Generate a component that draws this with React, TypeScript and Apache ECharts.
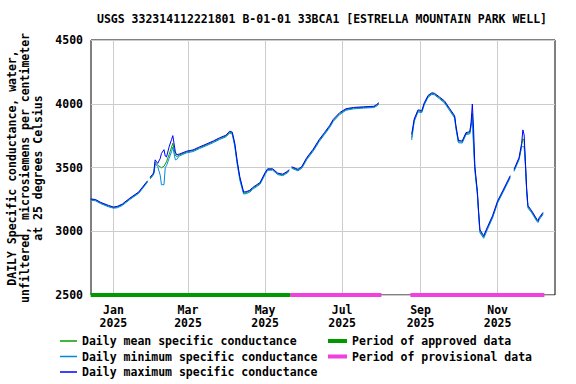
import React, { useEffect, useRef } from "react";
import * as echarts from "echarts";

const FONT = "'DejaVu Sans Mono', 'Liberation Mono', monospace";

const titleText = "USGS 332314112221801 B-01-01 33BCA1 [ESTRELLA MOUNTAIN PARK WELL]";
const yTitleLines = [
  "DAILY Specific conductance, water,",
  "unfiltered, microsiemens per centimeter",
  "at 25 degrees Celsius",
];

const dates = [
  "2024-12-14", "2024-12-18", "2024-12-22", "2024-12-28", "2025-01-01", "2025-01-04", "2025-01-08",
  "2025-01-14", "2025-01-21", "2025-01-27", "2025-01-28", "2025-01-29", "2025-01-30", "2025-02-01",
  "2025-02-02", "2025-02-03", "2025-02-05", "2025-02-07", "2025-02-08", "2025-02-10", "2025-02-11",
  "2025-02-12", "2025-02-14", "2025-02-16", "2025-02-17", "2025-02-19", "2025-02-20", "2025-02-22",
  "2025-02-28", "2025-03-05", "2025-03-10", "2025-03-16", "2025-03-21", "2025-03-26", "2025-03-31",
  "2025-04-03", "2025-04-05", "2025-04-07", "2025-04-09", "2025-04-11", "2025-04-14", "2025-04-16",
  "2025-04-19", "2025-04-21", "2025-04-27", "2025-05-01", "2025-05-03", "2025-05-07", "2025-05-11",
  "2025-05-15", "2025-05-19", "2025-05-20", "2025-05-21", "2025-05-22", "2025-05-27", "2025-05-30",
  "2025-06-03", "2025-06-08", "2025-06-13", "2025-06-17", "2025-06-21", "2025-06-24", "2025-06-29",
  "2025-07-04", "2025-07-10", "2025-07-18", "2025-07-26", "2025-07-28", "2025-07-30", "2025-08-10",
  "2025-08-25", "2025-08-27", "2025-08-30", "2025-09-02", "2025-09-04", "2025-09-07", "2025-09-10",
  "2025-09-12", "2025-09-16", "2025-09-20", "2025-09-24", "2025-09-28", "2025-09-29", "2025-10-01",
  "2025-10-04", "2025-10-07", "2025-10-10", "2025-10-11", "2025-10-12", "2025-10-13", "2025-10-14",
  "2025-10-16", "2025-10-17", "2025-10-18", "2025-10-21", "2025-10-24", "2025-10-28", "2025-11-01",
  "2025-11-05", "2025-11-11", "2025-11-12", "2025-11-14", "2025-11-18", "2025-11-20", "2025-11-21",
  "2025-11-22", "2025-11-23", "2025-11-24", "2025-11-25", "2025-11-28", "2025-12-02", "2025-12-03",
  "2025-12-04", "2025-12-07",
];

const meanVals = [
  3250, 3243, 3222, 3198, 3186, 3190, 3208,
  3255, 3303, 3378, 3390, null, 3418, 3440,
  3458, 3540, 3518, 3505, 3498, 3510, 3528,
  3545, 3600, 3660, 3690, 3598, 3585, 3598,
  3622, 3632, 3655, 3680, 3702, 3727, 3747,
  3778, 3770, 3680, 3535, 3415, 3300, 3303,
  3315, 3335, 3375, 3453, 3484, 3485, 3450,
  3442, 3466, 3478, null, 3500, 3480, 3500,
  3570, 3635, 3714, 3766, 3820, 3870, 3922,
  3955, 3966, 3971, 3975, 3986, 4002, null,
  3735, 3870, 3944, 3938, 4000, 4058, 4080,
  4076, 4046, 4014, 3955, 3897, 3818, 3702,
  3700, 3766, 3772, 3840, 3925, 3700, 3495,
  3298, 3140, 3000, 2955, 3025, 3113, 3230,
  3308, 3428, null, 3478, 3570, 3675, 3725,
  3710, 3530, 3322, 3192, 3152, 3087, 3075,
  3100, 3140,
];

const minVals = [
  3244, 3238, 3216, 3192, 3181, 3184, 3202,
  3249, 3297, 3372, 3384, null, 3410, 3432,
  3450, 3528, 3508, 3440, 3365, 3365, 3500,
  3515, 3570, 3625, 3660, 3560, 3562, 3590,
  3615, 3625, 3648, 3673, 3695, 3720, 3740,
  3770, 3762, 3668, 3522, 3402, 3292, 3295,
  3307, 3328, 3368, 3445, 3478, 3479, 3444,
  3436, 3460, 3472, null, 3494, 3474, 3493,
  3562, 3627, 3706, 3758, 3812, 3862, 3915,
  3949, 3960, 3966, 3970, 3980, 3996, null,
  3716, 3860, 3936, 3930, 3992, 4050, 4074,
  4070, 4039, 4006, 3947, 3888, 3806, 3694,
  3692, 3758, 3764, 3825, 3880, 3650, 3480,
  3285, 3128, 2988, 2945, 3015, 3104, 3222,
  3300, 3420, null, 3470, 3562, 3660, 3665,
  3660, 3515, 3310, 3182, 3144, 3079, 3068,
  3092, 3132,
];

const maxVals = [
  3254, 3248, 3226, 3203, 3190, 3195, 3213,
  3260, 3308, 3384, 3396, null, 3424, 3446,
  3464, 3560, 3532, 3570, 3610, 3640, 3590,
  3582, 3660, 3720, 3750, 3622, 3600, 3605,
  3628, 3638, 3661, 3686, 3708, 3733, 3753,
  3785, 3778, 3692, 3548, 3428, 3308, 3310,
  3322, 3342, 3382, 3460, 3490, 3490, 3456,
  3448, 3472, 3484, null, 3506, 3486, 3507,
  3578, 3643, 3722, 3774, 3828, 3878, 3930,
  3961, 3971, 3976, 3980, 3992, 4008, null,
  3760, 3880, 3952, 3946, 4008, 4066, 4086,
  4082, 4053, 4022, 3963, 3906, 3830, 3712,
  3708, 3774, 3780, 3850, 3998, 3800, 3510,
  3312, 3152, 3012, 2965, 3035, 3122, 3238,
  3316, 3436, null, 3486, 3578, 3688, 3795,
  3755, 3545, 3335, 3202, 3160, 3095, 3083,
  3108, 3148,
];

const approvedDates = ["2024-12-14", "2025-05-21"];
const provisionalDates = ["2025-05-21", "2025-08-01", "2025-08-12", "2025-08-24", "2025-12-08"];
const provisionalFlags = [1, 1, 0, 1, 1];
const periodLevel = 2500;

const monthNames = ["Jan", "Feb", "Mar", "Apr", "May", "Jun", "Jul", "Aug", "Sep", "Oct", "Nov", "Dec"];
const tickDateStrings = ["2025-01-01", "2025-03-01", "2025-05-01", "2025-07-01", "2025-09-01", "2025-11-01"];
const xMinString = "2024-12-14T06:00";
const xMaxString = "2025-12-16T10:00";

const toTime = (s: string) => {
  const [datePart, timePart] = s.split("T");
  const [y, m, d] = datePart.split("-").map(Number);
  const [hh, mm] = (timePart || "00:00").split(":").map(Number);
  return new Date(y, m - 1, d, hh, mm).getTime();
};

const seriesNames = {
  mean: "Daily mean specific conductance",
  min: "Daily minimum specific conductance",
  max: "Daily maximum specific conductance",
  approved: "Period of approved data",
  provisional: "Period of provisional data",
};

const colors = {
  mean: "#00a000",
  min: "#0088e0",
  max: "#0000ff",
  approved: "#009900",
  provisional: "#f040e0",
};

export default function App() {
  const ref = useRef<HTMLDivElement>(null);

  useEffect(() => {
    if (!ref.current) return;
    const chart = echarts.init(ref.current, null, { renderer: "svg" });
    const textBase = { fontFamily: FONT, fontWeight: "bold" as const, fontSize: 11.5, color: "#000" };
    const tickTimes = tickDateStrings.map(toTime);

    const lineSeries = (name: string, vals: (number | null)[], color: string) => ({
      name,
      type: "line",
      symbol: "none",
      data: dates.map((d, i) => [toTime(d), vals[i] == null ? "-" : vals[i]]),
      lineStyle: { color, width: 1 },
      itemStyle: { color },
      connectNulls: false,
      z: 3,
    });

    chart.setOption({
      animation: false,
      grid: {
        left: 91,
        right: 21,
        top: 40,
        bottom: 89,
        show: true,
        borderColor: "#000",
        borderWidth: 1,
      },
      graphic: [
        {
          type: "text",
          x: 322,
          y: 19,
          style: {
            text: titleText,
            align: "center",
            verticalAlign: "middle",
            font: `bold 11.5px ${FONT}`,
            fill: "#000",
          },
        },
        {
          type: "text",
          x: 25,
          y: 168,
          rotation: Math.PI / 2,
          style: {
            text: yTitleLines.join("\n"),
            align: "center",
            verticalAlign: "middle",
            lineHeight: 12.8,
            font: `bold 11.5px ${FONT}`,
            fill: "#000",
          },
        },
      ],
      legend: [
        {
          orient: "vertical",
          left: 60,
          top: 334,
          padding: 0,
          height: 50,
          itemWidth: 17,
          itemHeight: 1.5,
          itemGap: 1.5,
          icon: "rect",
          textStyle: { ...textBase, lineHeight: 14 },
          data: [seriesNames.mean, seriesNames.min, seriesNames.max],
        },
        {
          orient: "vertical",
          left: 328,
          top: 334,
          padding: 0,
          height: 50,
          itemWidth: 19,
          itemHeight: 4,
          itemGap: 1.5,
          icon: "rect",
          textStyle: { ...textBase, lineHeight: 14 },
          data: [seriesNames.approved, seriesNames.provisional],
        },
      ],
      xAxis: {
        type: "value",
        min: toTime(xMinString),
        max: toTime(xMaxString),
        axisLine: { show: false },
        axisTick: { show: false, customValues: tickTimes },
        splitLine: { show: true, lineStyle: { color: "#cccccc", width: 1 } },
        axisLabel: {
          ...textBase,
          customValues: tickTimes,
          margin: 8,
          lineHeight: 13,
          formatter: (v: number) => {
            const d = new Date(v);
            return monthNames[d.getMonth()] + "\n" + d.getFullYear();
          },
        },
      },
      yAxis: {
        type: "value",
        min: 2500,
        max: 4500,
        interval: 500,
        axisLine: { show: false },
        axisTick: { show: false },
        splitLine: { show: true, lineStyle: { color: "#cccccc", width: 1 } },
        axisLabel: { ...textBase, margin: 8, formatter: (v: number) => String(v) },
      },
      series: [
        lineSeries(seriesNames.mean, meanVals, colors.mean),
        lineSeries(seriesNames.min, minVals, colors.min),
        lineSeries(seriesNames.max, maxVals, colors.max),
        {
          name: seriesNames.approved,
          type: "line",
          symbol: "none",
          data: approvedDates.map((d) => [toTime(d), periodLevel]),
          lineStyle: { color: colors.approved, width: 4 },
          itemStyle: { color: colors.approved },
          z: 4,
        },
        {
          name: seriesNames.provisional,
          type: "line",
          symbol: "none",
          data: provisionalDates.map((d, i) => [toTime(d), provisionalFlags[i] ? periodLevel : "-"]),
          connectNulls: false,
          lineStyle: { color: colors.provisional, width: 4 },
          itemStyle: { color: colors.provisional },
          z: 4,
        },
      ],
    });

    return () => chart.dispose();
  }, []);

  return <div ref={ref} style={{ width: 576, height: 384, position: "absolute", left: 0, top: 0 }} />;
}
